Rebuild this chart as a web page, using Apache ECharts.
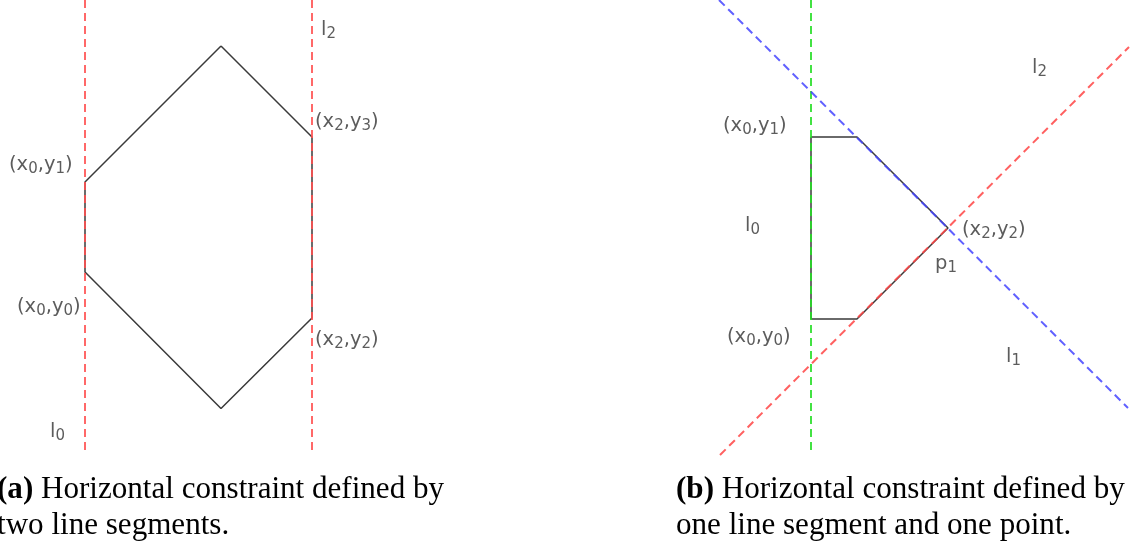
<!DOCTYPE html>
<html><head><meta charset="utf-8">
<script src="https://cdn.jsdelivr.net/npm/echarts@6/dist/echarts.min.js"></script>
<style>html,body{margin:0;padding:0;background:#fff}#c{width:1132px;height:544px}</style>
</head><body><div id="c"></div>
<script>
// Panel (a): diagram units (grid-local)
const hexagonA = [[221,46],[312,137],[312,318],[221,408.5],[85,272],[85,182],[221,46]];
const lineA0 = [[85,0],[85,455]];
const lineA2 = [[312,0],[312,455]];
const labelsA = [
  [9,165,'(x{s|0},y{s|1})'],
  [17,307,'(x{s|0},y{s|0})'],
  [315,122,'(x{s|2},y{s|3})'],
  [315,340,'(x{s|2},y{s|2})'],
  [321,30,'l{s|2}'],
  [50,432,'l{s|0}']
];
// Panel (b): diagram units (grid-local)
const polyB = [[111,137],[157,137],[248,228],[157,319],[111,319],[111,137]];
const lineB0 = [[111,0],[111,455]];
const lineB1 = [[19,0],[428,408]];
const lineB2 = [[20,455],[429,47]];
const labelsB = [
  [23,126,'(x{s|0},y{s|1})'],
  [45,226,'l{s|0}'],
  [27,337,'(x{s|0},y{s|0})'],
  [262,230,'(x{s|2},y{s|2})'],
  [235,264,'p{s|1}'],
  [306,357,'l{s|1}'],
  [332,68,'l{s|2}']
];
const captionA = ['(a)', 'Horizontal constraint defined by', 'two line segments.'];
const captionB = ['(b)', 'Horizontal constraint defined by', 'one line segment and one point.'];

const serif = 'Liberation Serif';
const sans = 'DejaVu Sans';

function fitSize(cap, target) {
  const ctx = document.createElement('canvas').getContext('2d');
  ctx.font = 'bold 100px "' + serif + '"';
  let w = ctx.measureText(cap[0]).width;
  ctx.font = '100px "' + serif + '"';
  w += ctx.measureText(' ' + cap[1]).width;
  return 100 * target / w;
}
const fs = fitSize(captionB, 449);

const chart = echarts.init(document.getElementById('c'), null, {renderer: 'canvas'});

function lineSeries(data, grid, color, width, dashed, z) {
  return {
    type: 'line', data: data, xAxisIndex: grid, yAxisIndex: grid,
    showSymbol: false, symbol: 'none', silent: true, animation: false, z: z,
    lineStyle: {color: color, width: width, type: dashed ? [8,5] : 'solid', opacity: dashed ? 0.85 : 1}
  };
}
function labelSeries(items, grid) {
  return {
    type: 'scatter', xAxisIndex: grid, yAxisIndex: grid, symbolSize: 1, silent: true, animation: false,
    itemStyle: {color: 'rgba(0,0,0,0)'}, z: 10,
    data: items.map(d => ({value: [d[0], d[1]], name: d[2]})),
    label: {
      show: true, position: 'inside', align: 'left', verticalAlign: 'middle',
      formatter: p => p.name, fontFamily: sans, fontSize: 19.5, color: '#333',
      rich: {s: {fontFamily: sans, fontSize: 15, color: '#333', padding: [8,0,0,0]}}
    }
  };
}
function caption(cap, left) {
  return {
    text: '{b|' + cap[0] + '} ' + cap[1] + '\n' + cap[2],
    left: left, top: 472, padding: 0,
    textStyle: {
      fontFamily: serif, fontSize: fs, fontWeight: 'normal', color: '#000', lineHeight: 36,
      rich: {b: {fontFamily: serif, fontSize: fs, fontWeight: 'bold', color: '#000', lineHeight: 36}}
    }
  };
}

chart.setOption({
  backgroundColor: '#fff',
  animation: false,
  title: [caption(captionA, -3), caption(captionB, 676)],
  grid: [
    {left: 0, top: 0, width: 400, height: 455},
    {left: 700, top: 0, width: 432, height: 455}
  ],
  xAxis: [
    {type: 'value', gridIndex: 0, min: 0, max: 400, show: false},
    {type: 'value', gridIndex: 1, min: 0, max: 432, show: false}
  ],
  yAxis: [
    {type: 'value', gridIndex: 0, min: 0, max: 455, inverse: true, show: false},
    {type: 'value', gridIndex: 1, min: 0, max: 455, inverse: true, show: false}
  ],
  series: [
    lineSeries(hexagonA, 0, '#3a3a3a', 1.5, false, 2),
    lineSeries(lineA0, 0, '#ff4d4d', 2, true, 3),
    lineSeries(lineA2, 0, '#ff4d4d', 2, true, 3),
    labelSeries(labelsA, 0),
    lineSeries(polyB, 1, '#3a3a3a', 1.5, false, 2),
    lineSeries(lineB0, 1, '#22dd22', 2, true, 3),
    lineSeries(lineB1, 1, '#4444ff', 2, true, 3),
    lineSeries(lineB2, 1, '#ff4444', 2, true, 3),
    labelSeries(labelsB, 1)
  ]
});
</script>
</body></html>
